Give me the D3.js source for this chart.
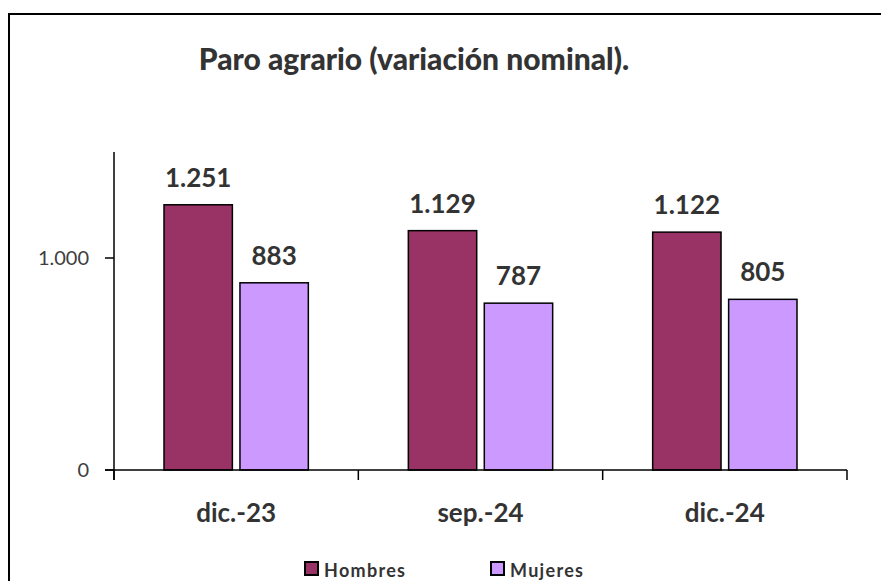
<!DOCTYPE html>
<html>
<head>
<meta charset="utf-8">
<script src="https://cdn.jsdelivr.net/npm/d3@7"></script>
<style>
  body { margin: 0; background: #fff; }
  text { font-family: Lato, "Open Sans", sans-serif; }
</style>
</head>
<body>
<div id="chart"></div>
<script>
var categories = ["dic.-23", "sep.-24", "dic.-24"];
var seriesNames = ["Hombres", "Mujeres"];
var hombres = [1251, 1129, 1122];
var mujeres = [883, 787, 805];
var yTicks = [0, 1000];
var colors = ["#993366", "#CC99FF"];

var width = 881, height = 581;
var fmt = d3.formatLocale({decimal: ",", thousands: ".", grouping: [3]}).format(",d");

var svg = d3.select("#chart").append("svg")
	.attr("width", width)
	.attr("height", height);

svg.append("rect")
	.attr("x", 9).attr("y", 14)
	.attr("width", 900).attr("height", 600)
	.attr("fill", "#fff")
	.attr("stroke", "#000")
	.attr("stroke-width", 2);

svg.append("text")
	.attr("x", 414).attr("y", 70)
	.attr("text-anchor", "middle")
	.attr("font-size", 30)
	.attr("font-weight", 900)
	.attr("fill", "#333")
	.text("Paro agrario (variación nominal).");

var x0 = 114, x1 = 847, yTop = 152, yBase = 470;

var x = d3.scaleBand()
	.domain(categories)
	.range([x0, x1]);

var xs = d3.scaleBand()
	.domain(seriesNames)
	.range([50, x.bandwidth() - 50])
	.paddingInner(0.1);

var y = d3.scaleLinear()
	.domain([0, 1500])
	.range([yBase, yTop]);

var data = categories.map((c, i) => ({cat: c, values: [hombres[i], mujeres[i]]}));

// y axis
svg.append("line")
	.attr("x1", x0).attr("x2", x0)
	.attr("y1", yTop).attr("y2", yBase + 10)
	.attr("stroke", "#000").attr("stroke-width", 1.5);

svg.selectAll(".ytick")
	.data(yTicks)
	.enter().append("line")
	.attr("x1", x0 - 9).attr("x2", x0)
	.attr("y1", d => y(d)).attr("y2", d => y(d))
	.attr("stroke", "#000").attr("stroke-width", 1.5);

svg.selectAll(".ylabel")
	.data(yTicks)
	.enter().append("text")
	.attr("x", 89)
	.attr("y", d => y(d))
	.attr("dy", "0.35em")
	.attr("text-anchor", "end")
	.attr("font-size", 20)
	.attr("fill", "#404040")
	.text(d => fmt(d));

// bars
var groups = svg.selectAll(".group")
	.data(data)
	.enter().append("g")
	.attr("transform", d => `translate(${x(d.cat)},0)`);

groups.selectAll("rect")
	.data(d => d.values.map((v, j) => ({name: seriesNames[j], value: v, j: j})))
	.enter().append("rect")
	.attr("x", d => xs(d.name))
	.attr("y", d => y(d.value))
	.attr("width", xs.bandwidth())
	.attr("height", d => y(0) - y(d.value))
	.attr("fill", d => colors[d.j])
	.attr("stroke", "#000")
	.attr("stroke-width", 1.5);

groups.selectAll(".val")
	.data(d => d.values.map((v, j) => ({name: seriesNames[j], value: v})))
	.enter().append("text")
	.attr("x", d => xs(d.name) + xs.bandwidth() / 2)
	.attr("y", d => y(d.value) - 18)
	.attr("text-anchor", "middle")
	.attr("font-size", 26)
	.attr("font-weight", "bold")
	.attr("fill", "#333")
	.text(d => fmt(d.value));

// x axis
svg.append("line")
	.attr("x1", x0 - 9).attr("x2", x1)
	.attr("y1", yBase).attr("y2", yBase)
	.attr("stroke", "#000").attr("stroke-width", 1.5);

var bounds = categories.map(c => x(c)).concat([x1]);
svg.selectAll(".xtick")
	.data(bounds)
	.enter().append("line")
	.attr("x1", d => d).attr("x2", d => d)
	.attr("y1", yBase).attr("y2", yBase + 10)
	.attr("stroke", "#000").attr("stroke-width", 1.5);

svg.selectAll(".xlabel")
	.data(categories)
	.enter().append("text")
	.attr("x", d => x(d) + x.bandwidth() / 2)
	.attr("y", 522)
	.attr("text-anchor", "middle")
	.attr("font-size", 26)
	.attr("font-weight", "bold")
	.attr("fill", "#333")
	.text(d => d);

// legend
var legendX = [305, 491];
var legend = svg.selectAll(".legend")
	.data(seriesNames)
	.enter().append("g")
	.attr("transform", (d, i) => `translate(${legendX[i]},562)`);

legend.append("rect")
	.attr("width", 13).attr("height", 13)
	.attr("fill", (d, i) => colors[i])
	.attr("stroke", "#000").attr("stroke-width", 2);

legend.append("text")
	.attr("x", 19).attr("y", 14.5)
	.attr("font-size", 18)
	.attr("font-weight", "bold")
	.attr("letter-spacing", 1.3)
	.attr("fill", "#333")
	.text(d => d);
</script>
</body>
</html>
